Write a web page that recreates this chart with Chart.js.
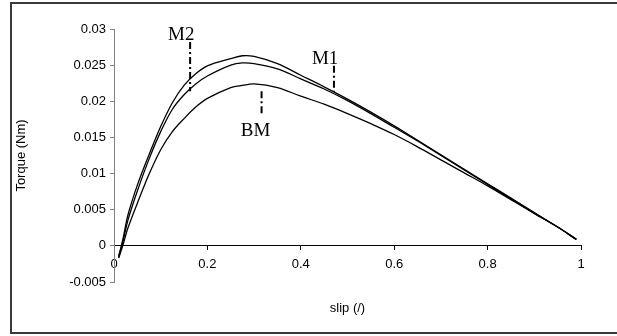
<!DOCTYPE html>
<html>
<head>
<meta charset="utf-8">
<script src="https://cdn.jsdelivr.net/npm/chart.js@4/dist/chart.umd.min.js"></script>
<style>
  html, body { margin: 0; padding: 0; background: #fff; overflow: hidden; }
  #chart { display: block; }
</style>
</head>
<body>
<canvas id="chart" width="617" height="336"></canvas>
<script>
// slip values shared by all three curves
const slip = [0.01, 0.02, 0.03, 0.05, 0.075, 0.1, 0.125, 0.15, 0.175, 0.2, 0.25, 0.275, 0.3, 0.35,
    0.4, 0.45, 0.5, 0.55, 0.6, 0.65, 0.7, 0.75, 0.8, 0.85, 0.9, 0.95, 0.99];

const torqueM2 = [-0.0016, 0.0012, 0.0043, 0.0084, 0.0126, 0.0165, 0.0198, 0.0222, 0.0238, 0.0249,
    0.0259, 0.0263, 0.0262, 0.0252, 0.0236, 0.0220, 0.0203, 0.0185, 0.0166, 0.0146, 0.0126,
    0.0106, 0.0086, 0.0066, 0.0046, 0.0026, 0.0009];

const torqueM1 = [-0.0014, 0.0008, 0.0036, 0.0076, 0.0120, 0.0158, 0.0189, 0.0209, 0.0224, 0.0235,
    0.0250, 0.0253, 0.0252, 0.0245, 0.0231, 0.0217, 0.0201, 0.0183, 0.0164, 0.0145, 0.0125,
    0.0105, 0.0085, 0.0065, 0.0045, 0.0026, 0.0009];

const torqueBM = [-0.0017, 0.0003, 0.0025, 0.0059, 0.0099, 0.0133, 0.0158, 0.0176, 0.0192, 0.0204,
    0.0219, 0.0222, 0.0224, 0.0219, 0.0207, 0.0196, 0.0183, 0.0169, 0.0154, 0.0137, 0.0119,
    0.0101, 0.0083, 0.0064, 0.0045, 0.0026, 0.0009];

const xTicks = [0, 0.2, 0.4, 0.6, 0.8, 1];
const yTicks = [-0.005, 0, 0.005, 0.01, 0.015, 0.02, 0.025, 0.03];

// curve markers (dash-dot lines) and their labels
const markerLabels = ['M2', 'M1', 'BM'];
const markerSlip = [0.163, 0.471, 0.316];
const markerTop = [0.0282, 0.0249, 0.0214];
const markerBottom = [0.0214, 0.0213, 0.0180];
const labelSlip = [0.144, 0.452, 0.303];
const labelTorque = [0.0285, 0.0251, 0.0152];

const curve = (vals) => slip.map((s, i) => ({x: s, y: vals[i]}));

const datasets = [torqueM2, torqueM1, torqueBM].map(vals => ({
    data: curve(vals),
    borderColor: '#000',
    borderWidth: 1.3,
    pointRadius: 0,
    showLine: true,
    tension: 0.35
}));

markerSlip.forEach((s, i) => {
    datasets.push({
        data: [{x: s, y: markerTop[i]}, {x: s, y: markerBottom[i]}],
        borderColor: '#000',
        borderWidth: 2,
        borderDash: [7, 3, 2, 3],
        pointRadius: 0,
        showLine: true
    });
});

// page frame: left, top and bottom edges only
const frame = {
    id: 'frame',
    beforeDraw(chart) {
        const ctx = chart.ctx;
        ctx.save();
        ctx.fillStyle = '#fff';
        ctx.fillRect(0, 0, chart.width, chart.height);
        ctx.strokeStyle = '#3a3a3a';
        ctx.lineWidth = 2;
        ctx.beginPath();
        ctx.moveTo(chart.width, 3);
        ctx.lineTo(11, 3);
        ctx.lineTo(11, 333);
        ctx.lineTo(chart.width, 333);
        ctx.stroke();
        ctx.restore();
    }
};

const markerText = {
    id: 'markerText',
    afterDatasetsDraw(chart) {
        const {ctx, scales: {x, y}} = chart;
        ctx.save();
        ctx.fillStyle = '#000';
        ctx.font = '19px "Liberation Serif", "Times New Roman", serif';
        ctx.textAlign = 'center';
        ctx.textBaseline = 'alphabetic';
        markerLabels.forEach((t, i) => {
            ctx.fillText(t, x.getPixelForValue(labelSlip[i]), y.getPixelForValue(labelTorque[i]));
        });
        ctx.restore();
    }
};

const tickFont = {family: '"Liberation Sans", Arial, sans-serif', size: 13};
const fmt = v => String(+Number(v).toFixed(4));

new Chart(document.getElementById('chart'), {
    type: 'scatter',
    data: {datasets: datasets},
    plugins: [frame, markerText],
    options: {
        responsive: false,
        animation: false,
        layout: {padding: {left: 0, top: 29, right: 36, bottom: 54}},
        plugins: {legend: {display: false}, tooltip: {enabled: false}},
        scales: {
            x: {
                type: 'linear',
                position: {y: 0},
                min: 0,
                max: 1,
                afterBuildTicks: s => { s.ticks = xTicks.map(v => ({value: v})); },
                ticks: {color: '#000', font: tickFont, padding: 7, callback: fmt, maxRotation: 0},
                grid: {drawOnChartArea: false, drawTicks: true, tickLength: 4, tickColor: '#000'},
                border: {display: true, color: '#000', width: 1},
                title: {display: true, text: 'slip (/)', color: '#000', font: tickFont, padding: {top: 21, bottom: 0}}
            },
            y: {
                type: 'linear',
                min: -0.005,
                max: 0.03,
                afterBuildTicks: s => { s.ticks = yTicks.map(v => ({value: v})); },
                afterFit: s => { s.width = 114; },
                ticks: {color: '#000', font: tickFont, padding: 4, callback: fmt},
                grid: {drawOnChartArea: false, drawTicks: true, tickLength: 4, tickColor: '#808080'},
                border: {display: true, color: '#808080', width: 1},
                title: {display: true, text: 'Torque (Nm)', color: '#000', font: tickFont, padding: {top: 14, bottom: 0}}
            }
        }
    }
});
</script>
</body>
</html>
